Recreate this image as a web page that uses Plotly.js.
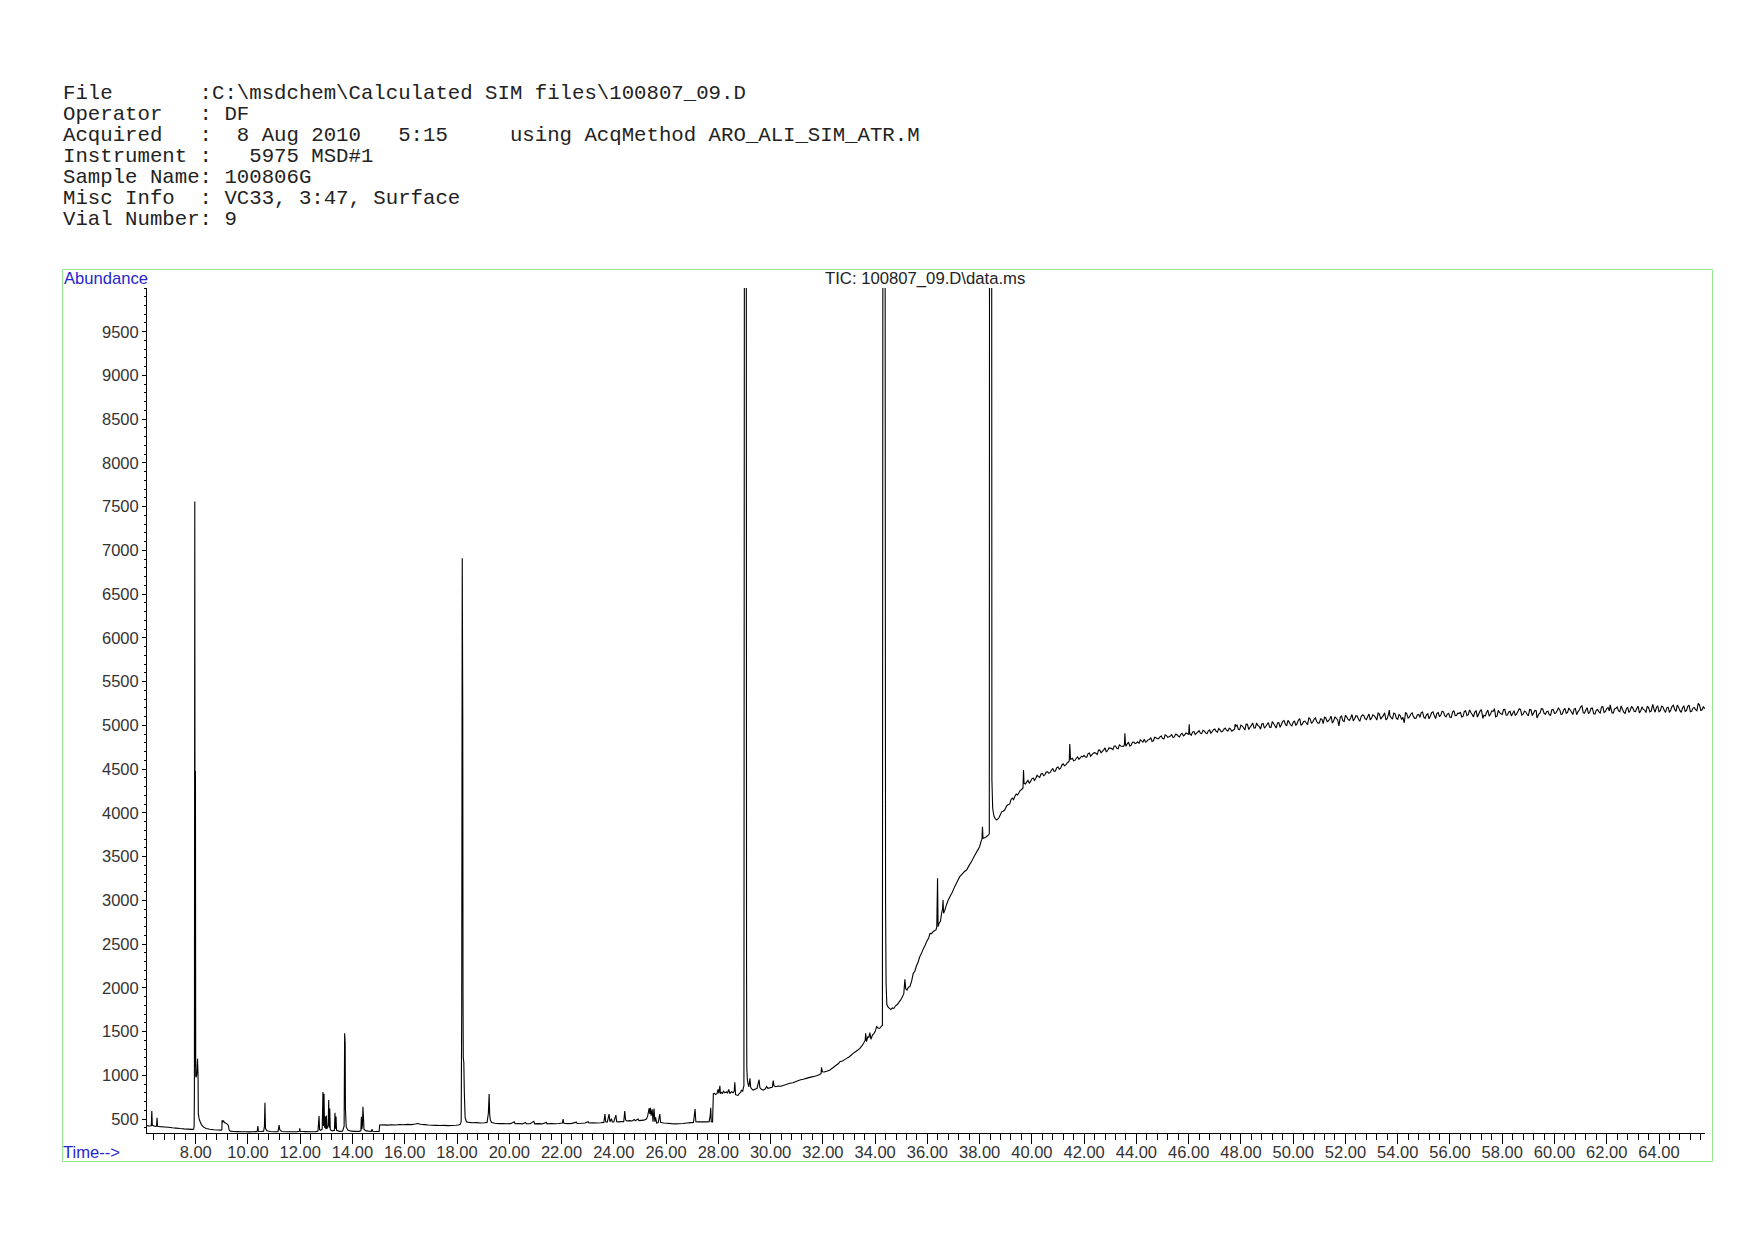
<!DOCTYPE html>
<html>
<head>
<meta charset="utf-8">
<script src="https://cdn.plot.ly/plotly-3.0.1.min.js"></script>
<style>
html, body { margin: 0; padding: 0; background: #ffffff; }
#chart { width: 1754px; height: 1240px; }
</style>
</head>
<body>
<div id="chart"></div>
<script>
// ---------- text ----------
const headerLines = [
  'File       :C:\\msdchem\\Calculated SIM files\\100807_09.D',
  'Operator   : DF',
  'Acquired   :  8 Aug 2010   5:15     using AcqMethod ARO_ALI_SIM_ATR.M',
  'Instrument :   5975 MSD#1',
  'Sample Name: 100806G',
  'Misc Info  : VC33, 3:47, Surface',
  'Vial Number: 9'
];
const chartTitle = 'TIC: 100807_09.D\\data.ms';
const yAxisLabel = 'Abundance';
const xAxisLabel = 'Time-->';

// ---------- ticks ----------
const xTickVals = [8,10,12,14,16,18,20,22,24,26,28,30,32,34,36,38,40,42,44,46,48,50,52,54,56,58,60,62,64];
const xTickText = ['8.00','10.00','12.00','14.00','16.00','18.00','20.00','22.00','24.00','26.00','28.00','30.00','32.00','34.00','36.00','38.00','40.00','42.00','44.00','46.00','48.00','50.00','52.00','54.00','56.00','58.00','60.00','62.00','64.00'];
const yTickVals = [500,1000,1500,2000,2500,3000,3500,4000,4500,5000,5500,6000,6500,7000,7500,8000,8500,9000,9500];

// ---------- data: [retention time (min), abundance] ----------
const scansEarly = [
[6.14,425],[6.22,421],[6.30,424],[6.32,592],[6.34,428],[6.42,420],[6.50,419],[6.52,516],[6.54,418],[6.65,414],
[6.8,410],[6.95,406],[7.1,401],[7.25,397],[7.4,392],[7.55,388],[7.7,385],[7.85,382],[7.92,384],[7.94,420],
[7.95,806],[7.965,7560],[7.98,1100],[7.99,4480],[8.00,990],[8.02,980],[8.04,1010],[8.07,1190],[8.09,990],[8.10,560],
[8.13,505],[8.17,470],[8.22,437],[8.30,408],[8.40,392],[8.54,383],[8.70,378],[8.85,375],[8.98,374],[9.00,380],
[9.01,486],[9.04,468],[9.07,478],[9.10,460],[9.14,456],[9.18,448],[9.22,440],[9.25,425],[9.28,375],[9.32,362],
[9.45,358],[9.6,357],[9.75,355],[9.9,356],[10.05,354],[10.2,356],[10.35,357],[10.38,421],[10.40,360],[10.5,358],
[10.60,362],[10.63,420],[10.65,688],[10.67,395],[10.72,366],[10.85,358],[11.0,356],[11.15,357],[11.19,430],[11.22,375],
[11.3,358],[11.5,355],[11.7,356],[11.9,357],[11.97,362],[11.98,395],[12.0,360],[12.2,357],[12.4,355],[12.6,357],
[12.68,362],[12.72,535],[12.74,380],[12.78,372],[12.84,385],[12.87,810],[12.89,420],[12.91,790],[12.93,400],[12.96,530],
[12.98,385],[13.00,540],[13.02,390],[13.07,430],[13.09,718],[13.11,400],[13.13,620],[13.15,380],[13.22,365],[13.31,372],
[13.33,573],[13.35,390],[13.37,530],[13.39,372],[13.5,360],[13.62,362],[13.68,420],[13.70,1480],[13.72,1370],[13.73,620],
[13.76,410],[13.82,375],[13.95,362],[14.1,360],[14.25,360],[14.32,366],[14.34,527],[14.36,385],[14.38,430],[14.40,641],
[14.42,520],[14.44,385],[14.5,368],[14.6,362],[14.72,360],[14.75,385],[14.77,360],[14.9,358],[15.02,359]
];

const scansMiddle = [
[15.04,432],[15.2,434],[15.35,431],[15.5,436],[15.65,433],[15.8,438],[15.95,435],[16.1,440],[16.25,437],[16.4,443],
[16.5,450],[16.6,441],[16.75,437],[16.9,432],[17.05,430],[17.2,428],[17.35,426],[17.5,428],[17.65,425],[17.8,427],
[17.95,430],[18.05,433],[18.12,440],[18.16,470],[18.18,1750],[18.20,6910],[18.22,5100],[18.23,1900],[18.24,1200],[18.26,1150],
[18.28,800],[18.31,520],[18.36,470],[18.45,462],[18.6,458],[18.75,460],[18.9,456],[19.05,458],[19.15,462],[19.20,566],
[19.23,787],[19.25,560],[19.27,496],[19.32,462],[19.45,452],[19.6,448],[19.75,450],[19.9,446],[20.05,448],[20.19,470],
[20.22,447],[20.35,449],[20.5,445],[20.62,462],[20.65,448],[20.8,447],[20.94,475],[20.97,446],[21.1,448],[21.25,445],
[21.42,462],[21.45,446],[21.6,449],[21.75,446],[21.9,450],[22.03,455],[22.06,500],[22.09,452],[22.25,448],[22.4,451],
[22.57,464],[22.6,450],[22.75,452],[22.9,455],[23.02,470],[23.05,455],[23.2,458],[23.35,455],[23.5,458],[23.62,462],
[23.66,558],[23.69,468],[23.75,465],[23.82,558],[23.85,470],[23.91,505],[23.94,468],[24.0,467],[24.08,545],[24.11,470],
[24.2,468],[24.3,472],[24.38,470],[24.42,592],[24.45,489],[24.5,478],[24.6,482],[24.7,478],[24.78,495],[24.82,480],
[24.93,500],[24.96,482],[25.05,485],[25.15,488],[25.25,500],[25.30,540],[25.35,623],[25.38,560],[25.40,630],[25.43,540],
[25.47,612],[25.50,470],[25.54,620],[25.57,470],[25.60,520],[25.64,455],[25.7,460],[25.76,558],[25.79,462],[25.9,455],
[26.05,452],[26.2,448],[26.35,445],[26.5,447],[26.65,450],[26.8,455],[26.95,460],[27.05,462],[27.11,615],[27.14,470],
[27.25,468],[27.4,470],[27.55,468],[27.65,470],[27.69,540],[27.71,630],[27.73,470],[27.78,468]
];

const scansRamp = [
[27.81,790],[27.85,795],[27.9,780],[27.95,792],[27.99,840],[28.02,795],[28.06,881],[28.08,790],[28.12,805],[28.16,795],
[28.2,818],[28.25,800],[28.31,813],[28.35,795],[28.40,840],[28.44,792],[28.5,812],[28.57,800],[28.61,822],[28.63,920],
[28.66,780],[28.7,775],[28.75,772],[28.8,792],[28.85,805],[28.89,832],[28.93,815],[28.96,860],[28.98,880],[29.00,12000],
[29.07,12000],[29.08,2350],[29.09,1100],[29.11,950],[29.14,900],[29.17,870],[29.21,966],[29.24,860],[29.28,845],[29.33,832],
[29.4,842],[29.48,850],[29.56,950],[29.59,860],[29.65,840],[29.72,830],[29.8,846],[29.85,872],[29.9,852],[30.0,860],
[30.07,865],[30.10,940],[30.13,880],[30.2,870],[30.3,878],[30.4,876],[30.48,885],[30.6,895],[30.74,909],[30.85,915],
[31.0,932],[31.12,946],[31.25,955],[31.4,968],[31.5,977],[31.62,985],[31.76,996],[31.88,1010],[31.93,1020],[31.95,1092],
[31.98,1040],[32.05,1038],[32.15,1048],[32.27,1061],[32.4,1090],[32.52,1118],[32.6,1135],[32.65,1156],[32.75,1165],[32.83,1180],
[32.91,1194],[33.0,1210],[33.08,1230],[33.16,1251],[33.25,1270],[33.34,1290],[33.42,1309],[33.5,1340],[33.56,1366],[33.62,1400],
[33.64,1481],[33.67,1385],[33.72,1443],[33.76,1430],[33.80,1489],[33.84,1413],[33.9,1460],[33.96,1480],[34.0,1500],[34.06,1558],
[34.12,1540],[34.18,1538],[34.25,1566],[34.28,1570],[34.30,12000],[34.38,12000],[34.40,3000],[34.42,2050],[34.45,1810],[34.5,1780],
[34.55,1766],[34.6,1752],[34.66,1770],[34.72,1765],[34.78,1795],[34.85,1810],[34.92,1840],[34.98,1862],[35.05,1900],[35.1,1937],
[35.14,2098],[35.17,1990],[35.22,1975],[35.28,2010],[35.33,2013],[35.4,2080],[35.46,2166],[35.52,2190],[35.58,2250],[35.64,2290],
[35.71,2356],[35.78,2400],[35.85,2450],[35.92,2490],[35.97,2528],[36.05,2570],[36.1,2623],[36.16,2620],[36.22,2642],[36.28,2655],
[36.33,2662],[36.36,2700],[36.39,3252],[36.41,2699],[36.45,2740],[36.5,2760],[36.55,2860],[36.58,2900],[36.60,3004],[36.62,2852],
[36.66,2880],[36.72,2940],[36.78,2990],[36.86,3042],[36.95,3090],[37.05,3160],[37.15,3220],[37.24,3271],[37.33,3300],[37.42,3330],
[37.5,3347],[37.6,3400],[37.7,3450],[37.82,3519],[37.9,3560],[38.0,3614],[38.06,3680],[38.09,3700],[38.11,3842],[38.13,3710],
[38.2,3715],[38.27,3730],[38.33,3747],[38.37,3760],[38.38,12000],[38.46,12000],[38.47,4380],[38.50,4050]
];

const scansPlateauRise = [
[38.55,3960],[38.6,3935],[38.65,3920],[38.7,3932],[38.75,3950],[38.8,3985],[38.85,4015],[38.9,4020],[38.95,4030],[39.0,4058],
[39.05,4085],[39.1,4095],[39.15,4100],[39.2,4150],[39.25,4170],[39.3,4152],[39.35,4190],[39.4,4215],[39.45,4205],[39.5,4228],
[39.55,4255],[39.6,4265],[39.66,4285],[39.68,4490],[39.70,4340],[39.75,4330],[39.8,4352],[39.85,4372],[39.9,4338],[39.95,4360],
[40.0,4390],[40.05,4398],[40.1,4372],[40.15,4395],[40.2,4430],[40.25,4415],[40.3,4405],[40.35,4445],[40.4,4450],[40.45,4425],
[40.5,4438],[40.55,4468],[40.6,4470],[40.65,4452],[40.7,4462],[40.75,4490],[40.8,4505],[40.85,4475],[40.9,4478],[40.95,4515],
[41.0,4525],[41.05,4500],[41.1,4512],[41.15,4548],[41.2,4560],[41.25,4538],[41.3,4548],[41.35,4572],[41.4,4582],[41.43,4595],
[41.45,4787],[41.48,4610],[41.55,4625],[41.6,4595],[41.65,4600],[41.7,4625],[41.75,4640],[41.8,4612],[41.85,4628],[41.9,4648],
[41.95,4640]
];

const scansPlateau = [
[42.0,4658],[42.1,4637],[42.2,4684],[42.3,4665],[42.4,4689],[42.5,4667],[42.6,4717],[42.7,4704],[42.8,4743],[42.9,4713],
[43.0,4740],[43.1,4723],[43.2,4765],[43.3,4734],[43.4,4765],[43.5,4760],[43.54,4775],[43.56,4910],[43.58,4790],[43.6,4763],
[43.7,4808],[43.8,4775],[43.9,4809],[44.0,4799],[44.1,4793],[44.2,4824],[44.3,4843],[44.4,4817],[44.5,4839],[44.6,4816],
[44.7,4864],[44.8,4848],[44.9,4869],[45.0,4851],[45.1,4892],[45.2,4865],[45.3,4878],[45.4,4861],[45.5,4899],[45.6,4878],
[45.7,4899],[45.8,4880],[45.9,4914],[46.0,4896],[46.02,5013],[46.04,4905],[46.1,4888],[46.2,4931],[46.3,4913],[46.4,4941],
[46.5,4908],[46.6,4935],[46.7,4906],[46.8,4948],[46.9,4930],[47.0,4958],[47.1,4922],[47.2,4948],[47.3,4934],[47.4,4969],
[47.5,4934],[47.6,4960],[47.7,4945],[47.76,4960],[47.78,5015],[47.8,4990],[47.9,4955],[48.0,5004],[48.1,4974],[48.2,5015],
[48.3,4953],[48.4,5000],[48.5,4972],[48.6,5028],[48.7,4990],[48.8,5016],[48.9,4968],[49.0,5010],[49.1,4979],[49.2,5044],
[49.3,4995],[49.4,5028],[49.5,4979],[49.6,5046],[49.7,5013],[49.8,5058],[49.9,5005],[50.0,5036],[50.1,4999],[50.2,5062],
[50.3,5000],[50.4,5045],[50.5,5028],[50.6,5089],[50.7,5024],[50.8,5070],[50.9,5045],[51.0,5028],[51.1,5072],[51.2,5095],
[51.3,5044],[51.4,5073],[51.5,5027],[51.6,5099],[51.7,5065],[51.75,4995],[51.8,5092],[51.9,5054],[52.0,5118],[52.1,5068],
[52.2,5085],[52.3,5051],[52.4,5111],[52.5,5070],[52.6,5100],[52.7,5114],[52.8,5065],[52.9,5130],[53.0,5085],[53.1,5112],
[53.2,5061],[53.3,5129],[53.4,5094],[53.5,5145],[53.6,5080],[53.68,5175],[53.7,5111],[53.8,5072],[53.9,5131],[54.0,5070],
[54.1,5111],[54.2,5092],[54.25,5030],[54.3,5149],[54.4,5084],[54.5,5128],[54.6,5101],[54.7,5082],[54.8,5125],[54.9,5147],
[55.0,5095],[55.1,5122],[55.2,5076],[55.3,5147],[55.4,5112],[55.5,5138],[55.6,5099],[55.7,5162],[55.8,5112],[55.9,5129],
[56.0,5094],[56.1,5153],[56.2,5112],[56.3,5140],[56.4,5153],[56.5,5104],[56.6,5168],[56.7,5122],[56.8,5148],[56.9,5097],
[57.0,5166],[57.1,5131],[57.2,5181],[57.26,5080],[57.3,5116],[57.4,5147],[57.5,5107],[57.6,5166],[57.7,5191],[57.8,5105],
[57.9,5146],[58.0,5126],[58.1,5183],[58.2,5118],[58.3,5162],[58.4,5135],[58.5,5116],[58.6,5159],[58.7,5180],[58.8,5128],
[58.9,5155],[59.0,5108],[59.1,5179],[59.2,5143],[59.3,5168],[59.33,5085],[59.4,5129],[59.5,5191],[59.6,5140],[59.7,5157],
[59.8,5121],[59.9,5180],[60.0,5139],[60.1,5168],[60.2,5180],[60.3,5131],[60.4,5195],[60.5,5149],[60.6,5176],[60.7,5124],
[60.8,5193],[60.9,5158],[61.0,5209],[61.05,5228],[61.1,5144],[61.2,5175],[61.3,5136],[61.4,5195],[61.5,5133],[61.6,5174],
[61.7,5155],[61.8,5212],[61.9,5147],[62.0,5192],[62.1,5165],[62.13,5235],[62.2,5145],[62.3,5188],[62.4,5210],[62.5,5158],
[62.6,5185],[62.7,5137],[62.8,5208],[62.9,5173],[63.0,5198],[63.1,5158],[63.2,5220],[63.3,5168],[63.4,5183],[63.5,5147],
[63.6,5205],[63.7,5164],[63.76,5240],[63.8,5192],[63.9,5205],[64.0,5156],[64.1,5220],[64.2,5174],[64.3,5200],[64.4,5149],
[64.5,5218],[64.6,5183],[64.7,5233],[64.8,5168],[64.9,5199],[65.0,5160],[65.1,5219],[65.2,5157],[65.3,5198],[65.4,5179],
[65.5,5251],[65.6,5171],[65.7,5216],[65.75,5190]
];

// intermediate scans of the noisy plateau (between the ones above)
const scansPlateauBetween = [
[42.05,4638],[42.15,4677],[42.25,4647],[42.35,4683],[42.45,4681],[42.55,4717],[42.65,4688],[42.75,4720],[42.85,4696],[42.95,4743],
[43.05,4736],[43.15,4765],[43.25,4739],[43.35,4777],[43.45,4761],[43.65,4790],[43.75,4763],[43.85,4808],[43.95,4793],[44.05,4812],
[44.15,4835],[44.25,4809],[44.35,4808],[44.45,4837],[44.55,4860],[44.65,4824],[44.75,4859],[44.85,4849],[44.95,4878],[45.05,4844],
[45.15,4883],[45.25,4871],[45.35,4898],[45.45,4869],[45.55,4895],[45.65,4869],[45.75,4910],[45.85,4893],[45.95,4906],[46.15,4924],
[46.25,4896],[46.35,4925],[46.45,4911],[46.55,4944],[46.65,4914],[46.75,4936],[46.85,4911],[46.95,4950],[47.05,4933],[47.15,4964],
[47.25,4928],[47.35,4957],[47.45,4945],[47.55,4967],[47.65,4933],[47.85,5004],[47.95,4951],[48.05,4993],[48.15,4947],[48.25,5013],
[48.35,4979],[48.45,5029],[48.55,4971],[48.65,4999],[48.75,4957],[48.85,5021],[48.95,4987],[49.05,5033],[49.15,4978],[49.25,5021],
[49.35,4970],[49.45,5031],[49.55,5010],[49.65,5055],[49.75,4994],[49.85,5035],[49.95,4994],[50.05,5053],[50.15,5020],[50.25,5077],
[50.35,5015],[50.45,5050],[50.55,5009],[50.65,5074],[50.75,5041],[50.85,5087],[50.95,5026],[51.05,5075],[51.15,5021],[51.25,5085],
[51.35,5053],[51.45,5106],[51.55,5052],[51.65,5080],[51.85,5107],[51.95,5043],[52.05,5095],[52.15,5056],[52.25,5124],[52.35,5076],
[52.45,5107],[52.55,5047],[52.65,5119],[52.75,5076],[52.85,5100],[52.95,5064],[53.05,5121],[53.15,5090],[53.25,5141],[53.35,5071],
[53.45,5112],[53.55,5063],[53.65,5132],[53.75,5089],[53.85,5140],[53.95,5081],[54.05,5124],[54.15,5067],[54.35,5131],[54.45,5098],
[54.55,5144],[54.65,5081],[54.75,5120],[54.85,5093],[54.95,5154],[55.05,5081],[55.15,5133],[55.25,5108],[55.35,5156],[55.45,5079],
[55.55,5146],[55.65,5118],[55.75,5155],[55.85,5098],[55.95,5139],[56.05,5092],[56.15,5169],[56.25,5114],[56.35,5137],[56.45,5097],
[56.55,5160],[56.65,5113],[56.75,5178],[56.85,5125],[56.95,5153],[57.05,5096],[57.15,5163],[57.35,5108],[57.45,5175],[57.55,5128],
[57.65,5160],[57.75,5097],[57.85,5172],[57.95,5134],[58.05,5181],[58.15,5117],[58.25,5154],[58.35,5109],[58.45,5169],[58.55,5130],
[58.65,5189],[58.75,5118],[58.85,5162],[58.95,5127],[59.05,5182],[59.15,5113],[59.25,5172],[59.45,5143],[59.55,5188],[59.65,5126],
[59.75,5163],[59.85,5116],[59.95,5183],[60.05,5143],[60.15,5198],[60.25,5127],[60.35,5176],[60.45,5138],[60.55,5199],[60.65,5154],
[60.75,5187],[60.85,5122],[60.95,5176],[61.15,5140],[61.25,5203],[61.35,5150],[61.45,5197],[61.55,5130],[61.65,5181],[61.75,5142],
[61.85,5215],[61.95,5159],[62.05,5204],[62.25,5140],[62.35,5197],[62.45,5166],[62.55,5222],[62.65,5151],[62.75,5188],[62.85,5147],
[62.95,5217],[63.05,5162],[63.15,5196],[63.25,5142],[63.35,5212],[63.45,5175],[63.55,5219],[63.65,5155],[63.85,5151],[63.95,5223],
[64.05,5168],[64.15,5213],[64.25,5148],[64.35,5208],[64.45,5177],[64.55,5230],[64.65,5159],[64.75,5206],[64.85,5150],[64.95,5225],
[65.05,5170],[65.15,5233],[65.25,5162],[65.35,5206],[65.45,5167],[65.55,5232],[65.65,5179]
];

// ---------- build ----------
const allScans = [].concat(scansEarly, scansMiddle, scansRamp, scansPlateauRise, scansPlateau, scansPlateauBetween)
  .sort((a, b) => a[0] - b[0]);
const timeMin = allScans.map(p => p[0]);
const abundance = allScans.map(p => p[1]);

const W = 1754, H = 1240;
const M = { l: 147, r: 49, t: 288, b: 107 };
const PW = W - M.l - M.r, PH = H - M.t - M.b;
const px2x = px => (px - M.l) / PW;
const px2y = py => (H - M.b - py) / PH;

const monoFont = 'Liberation Mono, Courier New, monospace';
const sansFont = 'Liberation Sans, Arial, sans-serif';

const annotations = headerLines.map((line, i) => ({
  text: line.replace(/ /g, '\u00A0'),
  xref: 'paper', yref: 'paper',
  x: px2x(61), y: px2y(93.8 + i * 20.9),
  xanchor: 'left', yanchor: 'middle',
  showarrow: false,
  font: { family: monoFont, size: 20.7, color: '#222222' }
}));
annotations.push({
  text: chartTitle, xref: 'paper', yref: 'paper',
  x: px2x(924.6), y: px2y(279), xanchor: 'center', yanchor: 'middle',
  showarrow: false, font: { family: sansFont, size: 16.7, color: '#222222' }
});
annotations.push({
  text: yAxisLabel, xref: 'paper', yref: 'paper',
  x: px2x(61.5), y: px2y(279), xanchor: 'left', yanchor: 'middle',
  showarrow: false, font: { family: sansFont, size: 16.6, color: '#2525d0' }
});
annotations.push({
  text: xAxisLabel, xref: 'paper', yref: 'paper',
  x: px2x(61), y: px2y(1152), xanchor: 'left', yanchor: 'middle',
  showarrow: false, font: { family: sansFont, size: 16.6, color: '#2525d0' }
});

const trace = {
  x: timeMin, y: abundance,
  type: 'scatter', mode: 'lines',
  line: { color: '#000000', width: 1.1, simplify: false },
  hoverinfo: 'skip', showlegend: false
};

const layout = {
  width: W, height: H,
  margin: { l: M.l, r: M.r, t: M.t, b: M.b, pad: 0 },
  paper_bgcolor: '#ffffff', plot_bgcolor: '#ffffff',
  showlegend: false,
  xaxis: {
    range: [6.136, 65.76], autorange: false,
    tickmode: 'array', tickvals: xTickVals, ticktext: xTickText,
    ticks: 'outside', ticklen: 10, tickwidth: 1, tickcolor: '#000000',
    ticklabelstandoff: -6,
    showline: true, linecolor: '#000000', linewidth: 1,
    showgrid: false, zeroline: false, automargin: false,
    tickfont: { family: sansFont, size: 16.5, color: '#333333' },
    minor: { tickmode: 'linear', tick0: 0, dtick: 0.4, ticks: 'outside', ticklen: 6, tickwidth: 1, tickcolor: '#000000', showgrid: false }
  },
  yaxis: {
    range: [341, 10000], autorange: false,
    tickmode: 'array', tickvals: yTickVals,
    ticks: 'outside', ticklen: 4, tickwidth: 1, tickcolor: '#000000',
    showline: true, linecolor: '#000000', linewidth: 1,
    showgrid: false, zeroline: false, automargin: false,
    tickfont: { family: sansFont, size: 16.5, color: '#333333' },
    minor: { tickmode: 'linear', tick0: 0, dtick: 100, ticks: 'outside', ticklen: 2, tickwidth: 1, tickcolor: '#000000', showgrid: false }
  },
  shapes: [{
    type: 'rect', xref: 'paper', yref: 'paper',
    x0: px2x(62.5), x1: px2x(1712.5), y0: px2y(1161.5), y1: px2y(269.5),
    line: { color: '#96e696', width: 1 }, fillcolor: 'rgba(0,0,0,0)', layer: 'below'
  }],
  annotations: annotations
};

Plotly.newPlot('chart', [trace], layout, { staticPlot: true, displayModeBar: false });
</script>
</body>
</html>
